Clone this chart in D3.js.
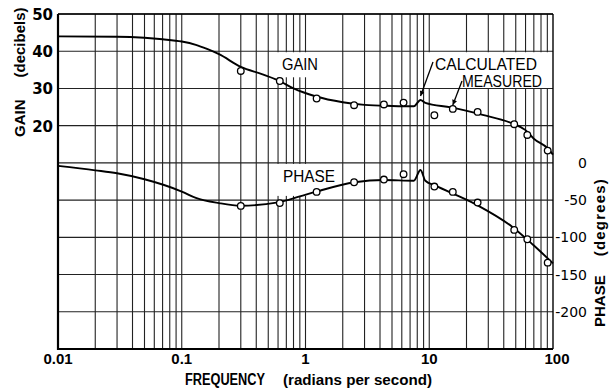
<!DOCTYPE html>
<html>
<head>
<meta charset="utf-8">
<script src="https://cdn.jsdelivr.net/npm/d3@7"></script>
<style>
  body { margin: 0; background: #fff; }
  svg { display: block; }
</style>
</head>
<body>
<div id="chart"></div>
<script>
// calculated response (solid curves)
const calcFreq  = [0.01, 0.03, 0.05, 0.07, 0.1, 0.13, 0.16, 0.2, 0.3, 0.45, 0.6, 0.8, 1.2, 2, 3, 5, 7.5, 8.5, 9.3, 15, 27, 47, 60, 70, 90, 100];
const calcGain  = [44, 43.9, 43.6, 43.2, 42.6, 41.7, 40.6, 39.2, 35.8, 33.8, 32.2, 30.0, 27.9, 26.3, 25.6, 25.3, 25.2, 26.9, 26.1, 24.9, 22.9, 20.6, 18.8, 16.5, 14.0, 12.2];
const phaseFreq = [0.01, 0.02, 0.03, 0.05, 0.1, 0.13, 0.2, 0.3, 0.6, 0.9, 1.2, 2.5, 4.3, 7.5, 8.5, 9.3, 11, 24, 47, 69, 100];
const calcPhase = [-4, -10, -14, -22, -38.5, -47, -54, -57.5, -53, -45, -39, -26, -23, -24, -9.5, -24, -30, -56, -86, -110, -135];

// measured points (circles)
const measFreq  = [0.3, 0.62, 1.23, 2.47, 4.3, 6.2, 11, 15.5, 24.6, 48.6, 62, 90.6];
const measGain  = [34.7, 32, 27.3, 25.5, 25.7, 26.2, 22.8, 24.5, 23.7, 20.4, 17.5, 13.3];
const measPhase = [-57.8, -54, -39, -26, -22.4, -15.2, -31.8, -39, -53.3, -90, -102.6, -134];

const freqTicks  = [0.01, 0.1, 1, 10, 100];
const freqLabels = ['0.01', '0.1', '1', '10', '100'];
const gainTicks  = [20, 30, 40, 50];
const phaseTicks = [0, -50, -100, -150, -200];

const width = 612, height = 392;
const mLeft = 58, mRight = 553, mTop = 14, mBottom = 349;

const svg = d3.select('#chart').append('svg')
    .attr('width', width)
    .attr('height', height);

const x = d3.scaleLog().domain([0.01, 100]).range([mLeft, mRight]);
const yGain = d3.scaleLinear().domain([-40, 50]).range([mBottom, mTop]);
const yPhase = d3.scaleLinear().domain([-250, 200]).range([mBottom, mTop]);

// log grid values 1..9 per decade
const gridFreqs = [];
for (let d = -2; d < 2; d++) {
  for (let k = 1; k <= 9; k++) gridFreqs.push(k * Math.pow(10, d));
}

svg.append('g').selectAll('line')
    .data(gridFreqs)
    .enter().append('line')
    .attr('x1', d => x(d)).attr('x2', d => x(d))
    .attr('y1', mTop).attr('y2', mBottom)
    .attr('stroke', '#222')
    .attr('stroke-width', 1.1);

// white patches behind the labels (they hide the vertical rules)
const boxes = [
  { f0: 0.56, f1: 1.3, g0: 40, g1: 33 },
  { f0: 9.6, f1: 95, g0: 40, g1: 30 }
];
svg.append('g').selectAll('rect')
    .data(boxes)
    .enter().append('rect')
    .attr('x', d => x(d.f0))
    .attr('width', d => x(d.f1) - x(d.f0))
    .attr('y', d => yGain(d.g0) + 1)
    .attr('height', d => yGain(d.g1) - yGain(d.g0) - 1)
    .attr('fill', '#fff');
svg.append('rect')
    .attr('x', x(0.56)).attr('width', x(1.95) - x(0.56))
    .attr('y', yPhase(0) + 1).attr('height', yPhase(-43) - yPhase(0))
    .attr('fill', '#fff');

svg.append('g').selectAll('line')
    .data(d3.range(-40, 51, 10))
    .enter().append('line')
    .attr('x1', mLeft).attr('x2', mRight)
    .attr('y1', d => yGain(d)).attr('y2', d => yGain(d))
    .attr('stroke', '#222')
    .attr('stroke-width', 1.1);

// frame
svg.append('line').attr('x1', mLeft).attr('x2', mLeft).attr('y1', mTop).attr('y2', mBottom + 1)
    .attr('stroke', '#000').attr('stroke-width', 2.2);
svg.append('line').attr('x1', mLeft).attr('x2', mRight).attr('y1', mBottom).attr('y2', mBottom)
    .attr('stroke', '#000').attr('stroke-width', 2.2);
svg.append('line').attr('x1', mLeft).attr('x2', mRight).attr('y1', mTop).attr('y2', mTop)
    .attr('stroke', '#000').attr('stroke-width', 1.6);
svg.append('line').attr('x1', mRight).attr('x2', mRight).attr('y1', mTop).attr('y2', mBottom)
    .attr('stroke', '#000').attr('stroke-width', 1.4);

// curves
const gainLine = d3.line()
    .x((d, i) => x(calcFreq[i]))
    .y(d => yGain(d))
    .curve(d3.curveMonotoneX);
const phaseLine = d3.line()
    .x((d, i) => x(phaseFreq[i]))
    .y(d => yPhase(d))
    .curve(d3.curveMonotoneX);

svg.append('path').attr('d', gainLine(calcGain))
    .attr('fill', 'none').attr('stroke', '#000').attr('stroke-width', 1.9);
svg.append('path').attr('d', phaseLine(calcPhase))
    .attr('fill', 'none').attr('stroke', '#000').attr('stroke-width', 1.9);

svg.append('g').selectAll('circle')
    .data(measGain)
    .enter().append('circle')
    .attr('cx', (d, i) => x(measFreq[i]))
    .attr('cy', d => yGain(d))
    .attr('r', 3.3)
    .attr('fill', '#fff').attr('stroke', '#000').attr('stroke-width', 1.3);
svg.append('g').selectAll('circle')
    .data(measPhase)
    .enter().append('circle')
    .attr('cx', (d, i) => x(measFreq[i]))
    .attr('cy', d => yPhase(d))
    .attr('r', 3.3)
    .attr('fill', '#fff').attr('stroke', '#000').attr('stroke-width', 1.3);

// tick labels
svg.append('g').selectAll('text')
    .data(gainTicks)
    .enter().append('text')
    .attr('x', 53).attr('y', d => yGain(d) + 6)
    .attr('text-anchor', 'end')
    .style('font', 'bold 15px "DejaVu Sans"')
    .text(d => d);

svg.append('g').selectAll('text')
    .data(phaseTicks)
    .enter().append('text')
    .attr('x', 587).attr('y', d => yPhase(d) + 5)
    .attr('text-anchor', 'end')
    .style('font', '14px "DejaVu Sans"')
    .text(d => d);

svg.append('g').selectAll('text')
    .data(freqTicks)
    .enter().append('text')
    .attr('x', d => x(d) + (d === 100 ? 4 : 0)).attr('y', 364)
    .attr('text-anchor', 'middle')
    .style('font', 'bold 15px "Liberation Sans"')
    .text((d, i) => freqLabels[i]);

// axis titles
const gainTitle = svg.append('text')
    .attr('transform', 'translate(25,137) rotate(-90)')
    .style('font', 'bold 15px "Liberation Sans"');
gainTitle.append('tspan').text('GAIN');
gainTitle.append('tspan').attr('dx', 22).text('(decibels)');

const phaseTitle = svg.append('text')
    .attr('transform', 'translate(605,327) rotate(-90)')
    .style('font', 'bold 15px "Liberation Sans"');
phaseTitle.append('tspan').text('PHASE');
phaseTitle.append('tspan').attr('dx', 19).attr('letter-spacing', 1.2).text('(degrees)');

svg.append('text')
    .attr('x', 185).attr('y', 385)
    .attr('textLength', 80).attr('lengthAdjust', 'spacingAndGlyphs')
    .style('font', 'bold 16px "Liberation Sans"')
    .text('FREQUENCY');
svg.append('text')
    .attr('x', 283).attr('y', 385)
    .attr('textLength', 149).attr('lengthAdjust', 'spacingAndGlyphs')
    .style('font', 'bold 15px "Liberation Sans"')
    .text('(radians per second)');

// curve labels
const labels = [
  { t: 'GAIN', x: 282, y: 70, w: 36 },
  { t: 'PHASE', x: 283, y: 182, w: 52 },
  { t: 'CALCULATED', x: 435, y: 70, w: 102 },
  { t: 'MEASURED', x: 462, y: 86.5, w: 80 }
];
svg.append('g').selectAll('text')
    .data(labels)
    .enter().append('text')
    .attr('x', d => d.x).attr('y', d => d.y)
    .attr('textLength', d => d.w).attr('lengthAdjust', 'spacingAndGlyphs')
    .style('font', '16px "Liberation Sans"')
    .text(d => d.t);

// leaders
svg.append('defs').append('marker')
    .attr('id', 'arr')
    .attr('viewBox', '0 0 10 10')
    .attr('refX', 10).attr('refY', 5)
    .attr('markerWidth', 7).attr('markerHeight', 5)
    .attr('orient', 'auto')
    .attr('markerUnits', 'userSpaceOnUse')
    .append('path').attr('d', 'M0,0L10,5L0,10Z').attr('fill', '#000');

const leaders = [
  { x1: 433, y1: 62, f: 8.5, g: 26.9 },
  { x1: 462, y1: 81, f: 15.5, g: 24.5 }
];
svg.append('g').selectAll('line')
    .data(leaders)
    .enter().append('line')
    .attr('x1', d => d.x1).attr('y1', d => d.y1)
    .attr('x2', d => x(d.f)).attr('y2', d => yGain(d.g) - 4)
    .attr('stroke', '#000').attr('stroke-width', 1.3)
    .attr('marker-end', 'url(#arr)');
</script>
</body>
</html>
